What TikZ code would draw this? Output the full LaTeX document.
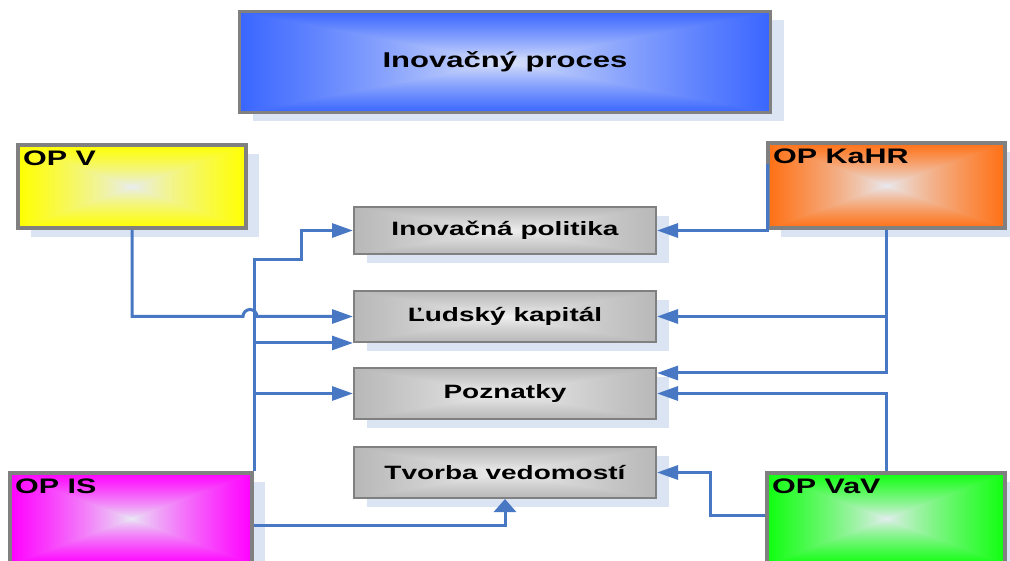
\documentclass[tikz,border=0pt]{standalone}
\usepackage{fontspec}
\newfontfamily\boxfont{Liberation Sans}[FakeStretch=1.45]
\usetikzlibrary{arrows.meta, positioning, shadows}

\definecolor{linkblue}{RGB}{72,120,196}
\definecolor{shadowblue}{RGB}{219,228,242}
\definecolor{frame}{RGB}{128,128,128}
\definecolor{procblue}{RGB}{58,102,255}
\definecolor{opyellow}{RGB}{255,255,0}
\definecolor{oporange}{RGB}{255,112,20}
\definecolor{opmagenta}{RGB}{255,0,255}
\definecolor{opgreen}{RGB}{16,255,16}
\definecolor{stepgray}{RGB}{184,184,184}
\colorlet{boxedge}{gray}
\colorlet{boxcenter}{white}

% light centre fading out to the edge colour in concentric rectangles
\pgfdeclarefunctionalshading[boxedge,boxcenter]{boxglow}{\pgfpoint{0bp}{0bp}}{\pgfpoint{100bp}{100bp}}
 {\pgfshadecolortorgb{boxedge}{\ec}\pgfshadecolortorgb{boxcenter}{\cc}}
 {50 sub abs exch 50 sub abs 2 copy lt {exch} if pop 25 div dup 1 gt {pop 1} if 0.8 exp
  dup \ecred\space \ccred\space sub mul \ccred\space add exch
  dup \ecgreen\space \ccgreen\space sub mul \ccgreen\space add exch
  \ecblue\space \ccblue\space sub mul \ccblue\space add}

\begin{document}
\begin{tikzpicture}[x=1pt, y=-1pt]
	\tikzset{>={Triangle[length=21pt, width=14pt]},
		glow/.code={\colorlet{boxedge}{#1}},
		centre/.code={\colorlet{boxcenter}{#1}},
		boxshadow/.style={drop shadow={shadow xshift=13pt, shadow yshift=-9pt, opacity=1, fill=shadowblue}},
		procbox/.style={draw=frame, line width=3pt, shading=boxglow, glow=procblue, centre={rgb,255:red,225;green,232;blue,250},
			boxshadow, minimum width=531pt, minimum height=101pt, font=\boxfont\bfseries\fontsize{21.4pt}{25pt}\selectfont},
		opbox/.style={draw=frame, line width=4pt, shading=boxglow, centre={rgb,255:red,232;green,236;blue,244}, boxshadow,
			label={[anchor=north west, inner sep=0pt, xshift=7pt, yshift=-8pt, font=\boxfont\bfseries\fontsize{21pt}{25pt}\selectfont]north west:#1}},
		stepbox/.style={draw=frame, line width=2pt, shading=boxglow, glow=stepgray, centre={rgb,255:red,242;green,242;blue,242},
			boxshadow, minimum width=302pt, minimum height=51pt, font=\boxfont\bfseries\fontsize{19.3pt}{23pt}\selectfont},
		link/.style={->, draw=linkblue, line width=3pt},
		uplink/.style={link, >={Triangle[length=13pt, width=22pt]}}}

	\useasboundingbox (0,0) rectangle (1010,561);

	\node[procbox] (proc) at (505,62) {Inovačný proces};

	\node[opbox={OP V}, glow=opyellow, minimum width=228pt, minimum height=83pt] (opv) at (132,186.5) {};
	\node[opbox={OP KaHR}, glow=oporange, minimum width=237pt, minimum height=85pt] (opkahr) at (886.5,185.5) {};
	\node[opbox={OP IS}, glow=opmagenta, minimum width=242pt, minimum height=91pt] (opis) at (131,518.5) {};
	\node[opbox={OP VaV}, glow=opgreen, minimum width=238pt, minimum height=91pt] (opvav) at (886,518.5) {};

	\node[stepbox, minimum height=47pt] (pol) at (505,230.5) {Inovačná politika};
	\node[stepbox, below=35pt of pol] (kap) {Ľudský kapitál};
	\node[stepbox, below=24pt of kap] (poz) {Poznatky};
	\node[stepbox, below=26pt of poz] (tvo) {Tvorba vedomostí};

	\coordinate (hop) at ([xshift=-110pt]kap.west);
	\draw[link] (opv.south) |- (hop) arc[start angle=180, end angle=0, radius=7pt] -- (kap.west);

	\draw[link] (opis.north east) |- (301,260) |- (pol.west);
	\draw[link] (opis.north east |- kap.south west) -- (kap.south west);
	\draw[link] (opis.north east |- poz.west) -- (poz.west);
	\draw[uplink] ([yshift=-7pt]opis.east) -| (tvo.south);

	\draw[link] ([shift={(1pt,-23pt)}]opkahr.north west) |- (pol.east);
	\draw[link] (opkahr.south) |- ([yshift=-6pt]poz.north east);
	\draw[link] (opkahr.south |- kap.east) -- (kap.east);

	\draw[link] (opvav.north) |- (poz.east);
	\draw[link] ([yshift=3pt]opvav.west) -- ++(-55,0) |- (tvo.east);
\end{tikzpicture}
\end{document}
